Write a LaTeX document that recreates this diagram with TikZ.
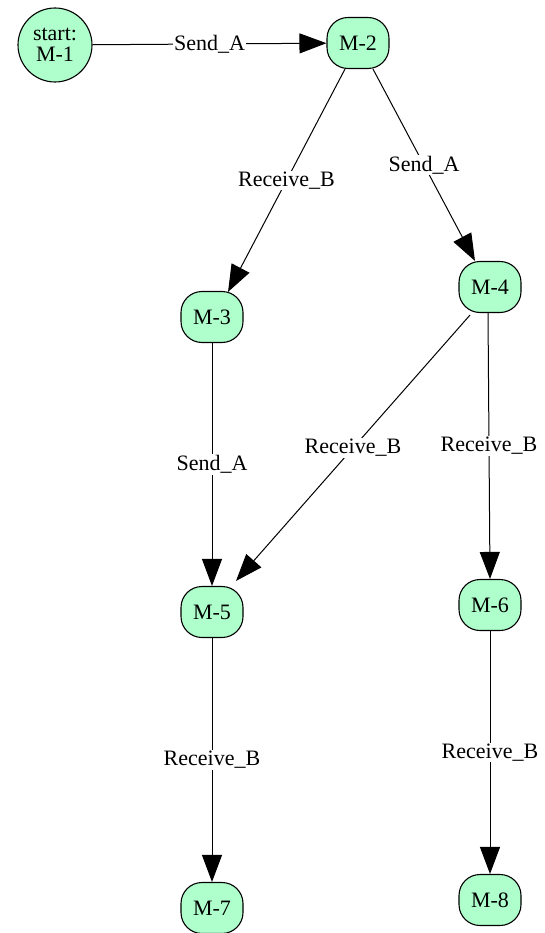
\documentclass[tikz,border=0pt]{standalone}
\usepackage{fontspec}
\setmainfont{Liberation Serif}
\usetikzlibrary{arrows.meta}
\definecolor{statefill}{RGB}{174,255,204}
\tikzset{
  state/.style={draw=black, line width=1.1pt, fill=statefill, rounded corners=21pt,
    minimum width=62pt, minimum height=51pt, inner sep=0pt, align=center,
    font=\fontsize{22}{23}\selectfont},
  startstate/.style={draw=black, line width=1.1pt, fill=statefill, circle,
    minimum size=74pt, inner sep=0pt, align=center,
    font=\fontsize{22}{21}\selectfont},
  trans/.style={draw=black, line width=1pt,
    -{Triangle[length=27pt,width=20pt]}},
  lbl/.style={fill=white, inner sep=1pt, font=\fontsize{22}{23}\selectfont}
}
\begin{document}
\begin{tikzpicture}[x=1pt, y=-1pt]
  \useasboundingbox (0,0) rectangle (545,933);

  % states
  \node[startstate] (m1) at (55,45) {start:\\M-1};
  \node[state] (m2) at (358,43)  {M-2};
  \node[state] (m3) at (212,317) {M-3};
  \node[state] (m4) at (490,287) {M-4};
  \node[state] (m5) at (212,612) {M-5};
  \node[state] (m6) at (490,605) {M-6};
  \node[state] (m7) at (212,908) {M-7};
  \node[state] (m8) at (490,900) {M-8};

  % transitions
  \draw[trans] (m1) -- node[lbl] {Send\_A} (m2);
  \draw[trans] ([xshift=-13pt]m2.south) -- node[lbl] {Receive\_B} ([xshift=16pt,yshift=-1pt]m3.north);
  \draw[trans] ([xshift=15pt]m2.south) -- node[lbl] {Send\_A} ([xshift=-15pt]m4.north);
  \draw[trans] (m3) -- node[lbl] {Send\_A} (m5);
  \draw[trans] ([xshift=-20pt,yshift=-2pt]m4.south) -- node[lbl] {Receive\_B} ([xshift=24pt,yshift=5pt]m5.north);
  \draw[trans] ([xshift=-2pt]m4.south) -- node[lbl] {Receive\_B} (m6.north);
  \draw[trans] (m5) -- node[lbl] {Receive\_B} (m7);
  \draw[trans] (m6) -- node[lbl] {Receive\_B} (m8);
\end{tikzpicture}
\end{document}
